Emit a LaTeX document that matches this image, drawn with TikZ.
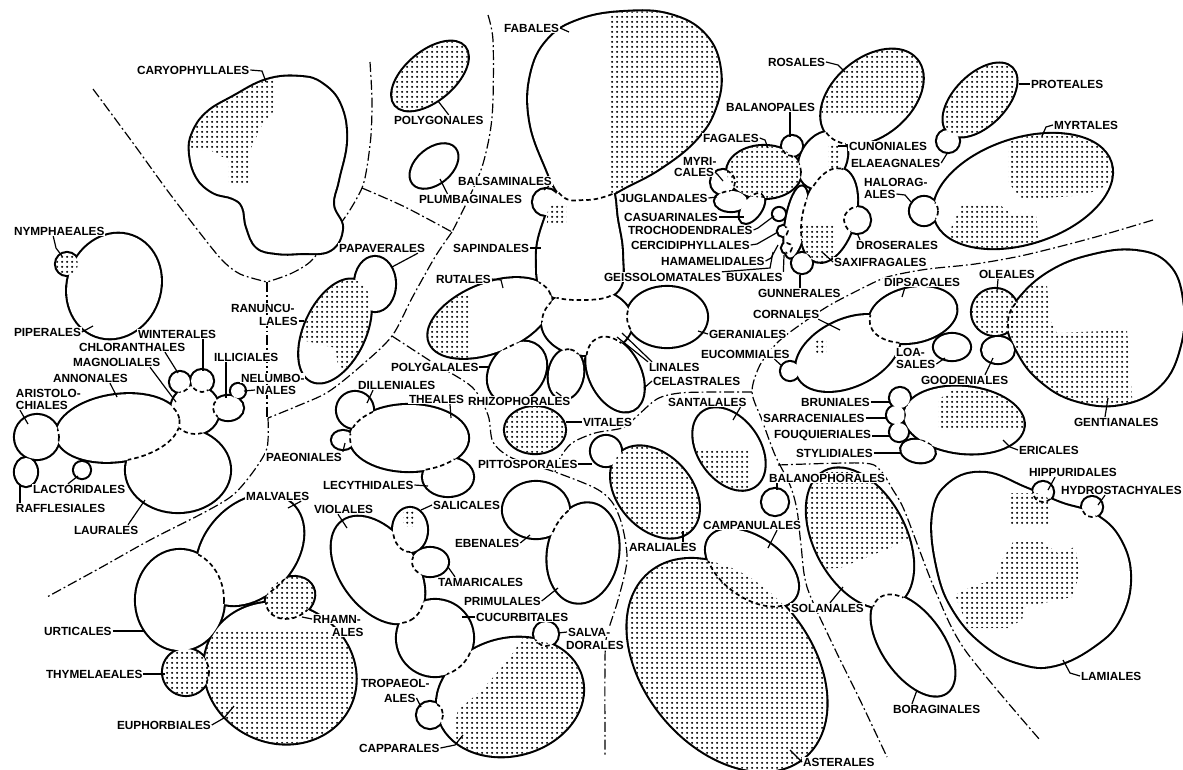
\documentclass[tikz,border=0pt]{standalone}
\usepackage{fontspec}
\newfontfamily\labfont{Liberation Sans}
\usetikzlibrary{patterns.meta}
\tikzdeclarepattern{
  name=stip,
  type=uncolored,
  bottom left={(0pt,0pt)},
  top right={(5pt,5pt)},
  tile size={(5pt,5pt)},
  code={\fill (2.5pt,2.5pt) circle (1.3pt);}
}
\newcommand\mkEl[6]{\path[save path=#1, rotate around={#6:(#2,#3)}] (#2,#3) ellipse [x radius=#4, y radius=#5];}
\newcommand\mkSh[2]{\path[save path=#1] plot[smooth cycle, tension=0.7] coordinates {#2};}
\newcommand\shOut[1]{\draw[line width=4.2pt, use path=#1];}
\newcommand\shWht[1]{\fill[white, use path=#1];}
\newcommand\shDin[2]{\begin{scope}\clip[use path=#1];\draw[bord, use path=#2];\end{scope}}
\newcommand\shStf[1]{\fill[pattern=stip, pattern color=black, use path=#1];}
\newcommand\shStp[2]{\begin{scope}\clip[use path=#1];\fill[pattern=stip, pattern color=black] #2;\end{scope}}
\newcommand\clDraw[1]{\def\shItem##1{\shOut##1}#1\def\shItem##1{\shWht##1}#1}
\tikzset{
  lab/.style={font=\labfont\bfseries\fontsize{11.8}{13}\selectfont, inner sep=0.8pt, fill=white, anchor=west},
  ldr/.style={line width=1.2pt},
  bord/.style={line width=1.7pt, dash pattern=on 4.5pt off 3pt},
  divl/.style={line width=1.2pt, dash pattern=on 10pt off 3pt on 1.8pt off 3pt},
}
\begin{document}
\begin{tikzpicture}[x=1pt,y=-1pt]
\useasboundingbox (0,0) rectangle (1183,769);
\fill[white] (0,0) rectangle (1183,769);

% ---------- dash-dot division lines ----------
\draw[divl] plot[smooth] coordinates {(93,89) (133,143) (167,190) (200,233) (222,260) (240,274) (267,282)};
\draw[divl] plot[smooth] coordinates {(370,62) (372,100) (371,135) (367,167) (362,188) (348,213) (328,240) (310,262) (290,274) (267,282)};
\draw[divl] (267,282) -- (267,418);
\draw[divl] plot[smooth] coordinates {(362,188) (405,207) (452,232)};
\draw[divl] plot[smooth] coordinates {(488,15) (493,40) (493,100) (490,133) (482,167) (468,200) (452,232)};
\draw[divl] plot[smooth] coordinates {(452,232) (435,257) (412,298) (392,336) (362,365) (328,392) (295,407) (268,418)};
\draw[divl] plot[smooth] coordinates {(268,418) (267,448) (253,472) (233,495) (205,512) (150,540) (100,568) (47,597)};
\draw[divl] plot[smooth] coordinates {(392,336) (432,362) (472,387) (488,415) (493,442) (512,458) (555,472) (595,488) (612,502) (622,525) (627,560) (618,600) (607,635) (605,660) (605,755)};
\draw[divl] plot[smooth] coordinates {(752,392) (715,392) (680,393) (657,399) (635,418) (622,428) (595,433) (572,443) (560,458) (555,472)};
\draw[divl] plot[smooth] coordinates {(1153,220) (1092,238) (1025,255) (975,264) (928,269) (895,275) (877,281) (830,305) (797,327) (777,343) (760,365) (752,392) (762,420) (775,455) (790,485) (797,510) (801,545) (807,587) (832,643) (860,700) (887,757)};
\draw[divl] plot[smooth] coordinates {(778,465) (862,463) (880,470) (893,490) (905,512) (935,590) (965,650) (1040,740)};

% ---------- shapes ----------
\mkSh\qCar{(300,77) (322,84) (340,105) (346,140) (338,180) (333,205) (342,228) (330,250) (300,253) (277,253) (257,247) (247,227) (243,207) (233,198) (213,192) (197,177) (190,153) (193,133) (207,113) (233,97) (267,80)}
\mkEl\qPip{114}{286}{53}{46}{70}
\mkEl\qNym{67}{264}{11}{11}{0}
\mkEl\qPgn{430}{76}{45}{24}{40}
\mkEl\qPlu{434}{166}{27}{17}{40}
% Rutanae
\mkSh\qFab{(562,196) (545,165) (530,120) (531,75) (548,40) (580,20) (625,12) (670,15) (705,35) (720,70) (715,108) (695,140) (660,168) (625,187) (607,196) (585,200)}
\mkSh\qSap{(562,186) (585,182) (610,186) (617,220) (622,255) (618,290) (585,300) (545,292) (537,260) (543,225)}
\mkEl\qBal{546}{202}{13}{13}{0}
\mkEl\qRut{490}{318}{65}{34}{22}
\mkEl\qHub{587}{322}{45}{33}{0}
\mkEl\qPol{517}{372}{33}{26}{50}
\mkEl\qRhi{566}{374}{25}{17}{80}
\mkEl\qCel{615}{374}{40}{25}{-63}
\mkEl\qGer{667}{317}{40}{30}{0}
% Rosanae
\mkEl\qRos{872}{97}{58}{38}{40}
\mkEl\qCun{823}{160}{30}{22}{60}
\mkEl\qFag{764}{172}{37}{26}{0}
\mkEl\qBlp{792}{146}{10}{10}{0}
\mkEl\qMyr{723}{182}{12}{12}{0}
\mkEl\qJug{731}{201}{16}{10}{0}
\mkEl\qCas{752}{208}{17}{9}{55}
\mkEl\qTro{779}{214}{6}{6}{0}
\mkEl\qCer{783}{231}{5}{5}{0}
\mkEl\qHam{796}{222}{36}{10}{80}
\mkEl\qBux{787}{248}{5}{5}{0}
\mkEl\qSax{829}{215}{48}{26}{75}
\mkEl\qDro{857}{220}{13}{13}{0}
\mkEl\qGun{802}{263}{10}{10}{0}
% Proteales, Myrtales
\mkEl\qPro{980}{100}{45}{25}{45}
\mkEl\qEla{948}{141}{11}{11}{0}
\mkEl\qMyt{1023}{191}{92}{52}{18}
\mkEl\qHal{924}{211}{14}{14}{0}
% Magnolianae
\mkEl\qAri{37}{437}{22}{22}{0}
\mkEl\qAnn{118}{428}{62}{33}{8}
\mkEl\qRaf{26}{472}{11}{14}{0}
\mkEl\qLac{82}{470}{8}{8}{0}
\mkEl\qMag{195}{410}{24}{24}{0}
\mkEl\qChl{180}{382}{10}{10}{0}
\mkEl\qWin{202}{381}{11}{11}{0}
\mkEl\qIll{228}{408}{15}{12}{0}
\mkEl\qNel{238}{391}{7}{7}{0}
\mkEl\qLau{178}{470}{52}{42}{0}
% Ranunculanae
\mkEl\qRan{335}{331}{55}{30}{65}
\mkEl\qPap{375}{284}{20}{27}{0}
% Theanae
\mkEl\qThe{409}{438}{59}{33}{0}
\mkEl\qDil{355}{410}{18}{18}{0}
\mkEl\qPae{343}{440}{11}{9}{0}
\mkEl\qLec{448}{477}{25}{19}{0}
\mkEl\qVit{535}{430}{30}{23}{0}
\mkEl\qPit{606}{451}{15}{15}{0}
\mkEl\qAra{655}{492}{52}{36}{-48}
\mkEl\qSan{729}{449}{45}{30}{-55}
\mkEl\qBph{775}{502}{13}{13}{0}
% Cornanae
\mkEl\qCor{848}{353}{55}{33}{25}
\mkEl\qDip{913}{315}{44}{27}{12}
\mkEl\qEuc{790}{371}{9}{9}{0}
\mkEl\qLoa{952}{347}{18}{13}{0}
\mkSh\qGen{(1008,322) (1020,298) (1050,272) (1090,256) (1135,251) (1168,265) (1182,300) (1180,345) (1160,385) (1120,404) (1075,400) (1040,380) (1018,352)}
\mkEl\qOle{995}{312}{23}{23}{0}
\mkEl\qGoo{998}{350}{16}{13}{0}
\mkEl\qEri{964}{420}{60}{33}{-6}
\mkEl\qBru{900}{398}{10}{10}{0}
\mkEl\qSar{896}{415}{9}{9}{0}
\mkEl\qFou{899}{432}{9}{9}{0}
\mkEl\qSty{918}{451}{17}{11}{-10}
\mkSh\qLam{(933,515) (950,483) (985,473) (1025,488) (1060,503) (1095,515) (1120,540) (1130,578) (1120,618) (1095,645) (1055,665) (1020,663) (985,645) (955,612) (938,570)}
\mkEl\qHip{1043}{492}{10}{10}{0}
\mkEl\qHyd{1092}{507}{10}{10}{0}
\mkEl\qSol{860}{538}{75}{45}{-62}
\mkEl\qBor{913}{645}{58}{30}{-55}
\mkEl\qCam{752}{568}{52}{30}{-35}
\mkEl\qAst{727}{665}{120}{82}{-50}
% Violanae
\mkEl\qVio{378}{570}{60}{37}{-54}
\mkEl\qSal{410}{530}{17}{22}{0}
\mkEl\qTam{430}{562}{18}{14}{0}
\mkEl\qCuc{435}{638}{38}{38}{0}
\mkEl\qCap{510}{697}{74}{58}{15}
\mkEl\qSlv{546}{634}{12}{12}{0}
\mkEl\qTrp{430}{715}{13}{13}{0}
\mkEl\qEbe{536}{510}{33}{28}{0}
\mkEl\qPri{583}{553}{35}{50}{-10}
% Malvanae
\mkEl\qUrt{180}{600}{44}{50}{0}
\mkEl\qMal{250}{550}{62}{45}{48}
\mkEl\qRha{290}{598}{25}{20}{25}
\mkEl\qEup{280}{673}{77}{69}{-25}
\mkEl\qThy{186}{672}{23}{23}{0}

% ---------- outlines and fills ----------
\clDraw{\shItem\qCar}
\clDraw{\shItem\qPip\shItem\qNym}
\clDraw{\shItem\qPgn}
\clDraw{\shItem\qPlu}
\clDraw{\shItem\qFab\shItem\qSap\shItem\qBal\shItem\qRut\shItem\qHub\shItem\qPol\shItem\qRhi\shItem\qCel\shItem\qGer}
\clDraw{\shItem\qRos\shItem\qCun\shItem\qFag\shItem\qBlp\shItem\qMyr\shItem\qJug\shItem\qCas\shItem\qTro\shItem\qCer\shItem\qHam\shItem\qBux\shItem\qSax\shItem\qDro\shItem\qGun}
\clDraw{\shItem\qPro\shItem\qEla}
\clDraw{\shItem\qMyt\shItem\qHal}
\clDraw{\shItem\qAri\shItem\qAnn\shItem\qRaf\shItem\qLac\shItem\qMag\shItem\qChl\shItem\qWin\shItem\qIll\shItem\qNel\shItem\qLau}
\clDraw{\shItem\qRan\shItem\qPap}
\clDraw{\shItem\qThe\shItem\qDil\shItem\qPae\shItem\qLec}
\clDraw{\shItem\qVit}
\clDraw{\shItem\qPit\shItem\qAra}
\clDraw{\shItem\qSan}
\clDraw{\shItem\qBph}
\clDraw{\shItem\qCor\shItem\qDip\shItem\qEuc}
\clDraw{\shItem\qLoa}
\clDraw{\shItem\qGen\shItem\qOle\shItem\qGoo}
\clDraw{\shItem\qEri\shItem\qBru\shItem\qSar\shItem\qFou\shItem\qSty}
\clDraw{\shItem\qLam\shItem\qHip\shItem\qHyd}
\clDraw{\shItem\qSol\shItem\qBor}
\clDraw{\shItem\qCam\shItem\qAst}
\clDraw{\shItem\qVio\shItem\qSal\shItem\qTam\shItem\qCuc\shItem\qCap\shItem\qSlv\shItem\qTrp}
\clDraw{\shItem\qEbe\shItem\qPri}
\clDraw{\shItem\qUrt\shItem\qMal\shItem\qRha\shItem\qEup\shItem\qThy}

% ---------- stippling ----------
\shStp\qCar{(185,75) -- (275,75) -- (273,112) -- (262,125) -- (255,140) -- (250,150) -- (249,184) -- (228,184) -- (228,160) -- (210,150) -- (185,150) -- cycle}
\shStf\qNym
\shStf\qPgn
\shStp\qFab{(610,0) rectangle (730,200)}
\shStp\qSap{(547,205) rectangle (566,223)}
\shStp\qRut{(420,295) rectangle (470,362)}
\shStp\qRos{(800,30) rectangle (940,112)}
\shStf\qFag
\shStp\qCun{(828,145) rectangle (840,170)}
\shStp\qSax{(795,225) rectangle (835,265)}
\shStf\qPro
\shStp\qMyt{(1008,136) -- (1120,136) -- (1120,180) -- (1085,195) -- (1022,200) -- (1008,182) -- cycle}
\shStp\qMyt{(962,205) -- (1000,205) -- (1010,213) -- (1036,215) -- (1040,250) -- (945,250) -- (952,225) -- cycle}
\shStp\qRan{(290,250) -- (400,250) -- (400,390) -- (347,372) -- (338,365) -- (335,348) -- (302,340) -- (290,340) -- cycle}
\shStf\qVit
\shStf\qAra
\shStp\qSan{(690,448) rectangle (750,495)}
\shStp\qCor{(815,338) rectangle (826,352)}
\shStf\qOle
\shStp\qGen{(1000,285) -- (1047,285) -- (1050,320) -- (1057,333) -- (1127,330) -- (1133,410) -- (1000,410) -- cycle}
\shStp\qEri{(938,400) -- (955,388) -- (1020,388) -- (1025,430) -- (938,430) -- cycle}
\shStp\qLam{(955,595) -- (975,585) -- (995,580) -- (1002,560) -- (1013,542) -- (1042,542) -- (1058,553) -- (1075,547) -- (1080,573) -- (1072,597) -- (1025,607) -- (1022,620) -- (1008,628) -- (968,628) -- cycle}
\shStp\qLam{(1010,493) rectangle (1050,523)}
\shStp\qSol{(800,455) -- (915,455) -- (915,535) -- (890,548) -- (860,560) -- (840,568) -- (800,570) -- cycle}
\shStf\qAst
\shStp\qSal{(403,510) rectangle (414,526)}
\shStp\qCap{(525,635) -- (600,635) -- (600,765) -- (450,765) -- (455,723) -- (458,710) -- (482,690) -- (508,660) -- cycle}
\shStf\qRha
\shStf\qThy
\shStp\qEup{(190,630) rectangle (370,760)}

% ---------- internal dashed borders ----------
\shDin\qSap\qFab
\shDin\qHub\qSap
\shDin\qSap\qRut
\shDin\qRut\qHub
\shDin\qPol\qRut
\shDin\qHub\qPol
\shDin\qHub\qRhi
\shDin\qRhi\qCel
\shDin\qHub\qCel
\shDin\qHub\qGer
\shDin\qCun\qRos
\shDin\qCun\qFag
\shDin\qFag\qBlp
\shDin\qFag\qMyr
\shDin\qMyr\qJug
\shDin\qFag\qJug
\shDin\qFag\qCas
\shDin\qFag\qHam
\shDin\qCun\qHam
\shDin\qHam\qSax
\shDin\qCun\qSax
\shDin\qSax\qDro
\shDin\qSax\qGun
\shDin\qHam\qGun
\shDin\qHam\qCer
\shDin\qHam\qBux
\shDin\qMyt\qHal
\shDin\qAnn\qAri
\shDin\qAri\qRaf
\shDin\qAnn\qLac
\shDin\qLau\qAnn
\shDin\qMag\qAnn
\shDin\qLau\qMag
\shDin\qMag\qChl
\shDin\qMag\qWin
\shDin\qMag\qIll
\shDin\qIll\qNel
\shDin\qDil\qThe
\shDin\qPae\qThe
\shDin\qLec\qThe
\shDin\qCor\qDip
\shDin\qOle\qGen
\shDin\qOle\qGoo
\shDin\qEri\qBru
\shDin\qEri\qSar
\shDin\qEri\qFou
\shDin\qEri\qSty
\shDin\qLam\qHip
\shDin\qLam\qHyd
\shDin\qSol\qBor
\shDin\qAst\qCam
\shDin\qVio\qSal
\shDin\qVio\qTam
\shDin\qCuc\qVio
\shDin\qCap\qCuc
\shDin\qCap\qTrp
\shDin\qCap\qSlv
\shDin\qEbe\qPri
\shDin\qMal\qUrt
\shDin\qEup\qUrt
\shDin\qEup\qMal
\shDin\qRha\qMal
\shDin\qEup\qRha
\shDin\qEup\qThy

% ---------- labels ----------
\node[lab] (lCar) at (136,70) {CARYOPHYLLALES};
\node[lab] (lPgn) at (393,120) {POLYGONALES};
\node[lab] (lPlu) at (418,199) {PLUMBAGINALES};
\node[lab] (lBsm) at (457,181) {BALSAMINALES};
\node[lab] (lFab) at (503,28) {FABALES};
\node[lab] (lSap) at (452,248) {SAPINDALES};
\node[lab] (lPap) at (338,248) {PAPAVERALES};
\node[lab] (lRan1) at (230,308) {RANUNCU-};
\node[lab] (lRan2) at (258,321) {LALES};
\node[lab] (lNym) at (13,231) {NYMPHAEALES};
\node[lab] (lPip) at (13,332) {PIPERALES};
\node[lab] (lWin) at (137,334) {WINTERALES};
\node[lab] (lChl) at (78,347) {CHLORANTHALES};
\node[lab] (lMag) at (72,362) {MAGNOLIALES};
\node[lab] (lIll) at (213,357) {ILLICIALES};
\node[lab] (lNel1) at (240,378) {NELUMBO-};
\node[lab] (lNel2) at (255,390) {NALES};
\node[lab] (lAnn) at (52,378) {ANNONALES};
\node[lab] (lAri1) at (15,393) {ARISTOLO-};
\node[lab] (lAri2) at (15,405) {CHIALES};
\node[lab] (lLac) at (32,489) {LACTORIDALES};
\node[lab] (lRaf) at (15,508) {RAFFLESIALES};
\node[lab] (lLau) at (73,530) {LAURALES};
\node[lab] (lMal) at (245,496) {MALVALES};
\node[lab] (lUrt) at (43,631) {URTICALES};
\node[lab] (lThy) at (45,674) {THYMELAEALES};
\node[lab] (lEup) at (116,725) {EUPHORBIALES};
\node[lab] (lRha1) at (312,619) {RHAMN-};
\node[lab] (lRha2) at (331,632) {ALES};
\node[lab] (lVio) at (313,509) {VIOLALES};
\node[lab] (lSal) at (432,505) {SALICALES};
\node[lab] (lTam) at (437,582) {TAMARICALES};
\node[lab] (lCuc) at (475,617) {CUCURBITALES};
\node[lab] (lSlv1) at (567,632) {SALVA-};
\node[lab] (lSlv2) at (565,645) {DORALES};
\node[lab] (lTrp1) at (360,683) {TROPAEOL-};
\node[lab] (lTrp2) at (383,698) {ALES};
\node[lab] (lCpp) at (358,748) {CAPPARALES};
\node[lab] (lEbe) at (454,543) {EBENALES};
\node[lab] (lPri) at (463,601) {PRIMULALES};
\node[lab] (lDil) at (357,385) {DILLENIALES};
\node[lab] (lThe) at (408,399) {THEALES};
\node[lab] (lPae) at (265,457) {PAEONIALES};
\node[lab] (lLec) at (322,485) {LECYTHIDALES};
\node[lab] (lRut) at (435,279) {RUTALES};
\node[lab] (lPgl) at (390,367) {POLYGALALES};
\node[lab] (lRhi) at (467,401) {RHIZOPHORALES};
\node[lab] (lVit) at (582,422) {VITALES};
\node[lab] (lPit) at (477,464) {PITTOSPORALES};
\node[lab] (lAra) at (628,547) {ARALIALES};
\node[lab] (lCam) at (702,525) {CAMPANULALES};
\node[lab] (lAst) at (802,762) {ASTERALES};
\node[lab] (lSol) at (790,608) {SOLANALES};
\node[lab] (lBor) at (892,709) {BORAGINALES};
\node[lab] (lLam) at (1080,676) {LAMIALES};
\node[lab] (lHip) at (1028,472) {HIPPURIDALES};
\node[lab] (lHyd) at (1060,490) {HYDROSTACHYALES};
\node[lab] (lGen) at (1073,422) {GENTIANALES};
\node[lab] (lEri) at (1018,450) {ERICALES};
\node[lab] (lGoo) at (920,380) {GOODENIALES};
\node[lab] (lLoa1) at (895,352) {LOA-};
\node[lab] (lLoa2) at (895,364) {SALES};
\node[lab] (lOle) at (978,274) {OLEALES};
\node[lab] (lDip) at (883,282) {DIPSACALES};
\node[lab] (lCor) at (752,314) {CORNALES};
\node[lab] (lEuc) at (700,354) {EUCOMMIALES};
\node[lab] (lGer) at (708,334) {GERANIALES};
\node[lab] (lLin) at (648,367) {LINALES};
\node[lab] (lCel) at (652,381) {CELASTRALES};
\node[lab] (lSan) at (667,402) {SANTALALES};
\node[lab] (lBph) at (768,478) {BALANOPHORALES};
\node[lab] (lBru) at (800,402) {BRUNIALES};
\node[lab] (lSar) at (762,418) {SARRACENIALES};
\node[lab] (lFou) at (773,436) {FOUQUIERIALES};
\node[lab] (lSty) at (795,453) {STYLIDIALES};
\node[lab] (lRos) at (767,62) {ROSALES};
\node[lab] (lBlp) at (725,107) {BALANOPALES};
\node[lab] (lFag) at (702,138) {FAGALES};
\node[lab] (lMyr1) at (682,161) {MYRI-};
\node[lab] (lMyr2) at (673,172) {CALES};
\node[lab] (lJug) at (618,198) {JUGLANDALES};
\node[lab] (lCas) at (623,217) {CASUARINALES};
\node[lab] (lTro) at (627,230) {TROCHODENDRALES};
\node[lab] (lCer) at (630,245) {CERCIDIPHYLLALES};
\node[lab] (lHam) at (660,261) {HAMAMELIDALES};
\node[lab] (lGei) at (603,277) {GEISSOLOMATALES};
\node[lab] (lBux) at (725,277) {BUXALES};
\node[lab] (lSxf) at (833,262) {SAXIFRAGALES};
\node[lab] (lDro) at (855,245) {DROSERALES};
\node[lab] (lGun) at (757,293) {GUNNERALES};
\node[lab] (lCun) at (848,146) {CUNONIALES};
\node[lab] (lEla) at (850,163) {ELAEAGNALES};
\node[lab] (lHal1) at (863,182) {HALORAG-};
\node[lab] (lHal2) at (863,194) {ALES};
\node[lab] (lPro) at (1030,84) {PROTEALES};
\node[lab] (lMyt) at (1053,125) {MYRTALES};

% ---------- leaders ----------
\draw[ldr] (lCar.east) -- (262,71) -- (266,82);
\draw[ldr] ([xshift=10pt]lPgn.north) -- (438,101);
\draw[ldr] ([xshift=-23pt]lPlu.north) -- (440,179);
\draw[ldr] ([xshift=-4pt]lBsm.south east) -- (544,190);
\draw[ldr] (lFab.east) -- (569,32);
\draw[ldr] (lSap.east) -- (541,248);
\draw[ldr] ([xshift=-8pt]lPap.south east) -- (392,267);
\draw[ldr] (lRan2.east) -- (304,321);
\draw[ldr] ([xshift=-6pt]lNym.south) -- (56,248) -- (62,256);
\draw[ldr] (lPip.east) -- (93,326);
\draw[ldr] ([xshift=66pt]lWin.south west) -- (203,371);
\draw[ldr] ([xshift=87pt]lChl.south west) -- (178,373);
\draw[ldr] ([xshift=78pt]lMag.south west) -- (176,402);
\draw[ldr] ([xshift=13pt]lIll.south west) -- (226,398);
\draw[ldr] (lNel2.west) -- (244,391);
\draw[ldr] ([xshift=58pt]lAnn.south west) -- (117,397);
\draw[ldr] ([xshift=5pt]lAri2.south west) -- (28,424);
\draw[ldr] ([xshift=36pt]lLac.north west) -- (78,476);
\draw[ldr] ([xshift=5pt]lRaf.north west) -- (20,484);
\draw[ldr] ([xshift=55pt]lLau.north west) -- (145,500);
\draw[ldr] ([xshift=-9pt]lMal.south east) -- (288,508);
\draw[ldr] (lUrt.east) -- (145,631);
\draw[ldr] (lThy.east) -- (165,674);
\draw[ldr] (lEup.east) -- (224,718) -- (234,706);
\draw[ldr] (lRha1.west) -- (302,617);
\draw[ldr] ([xshift=25pt]lVio.south west) -- (347,528);
\draw[ldr] (lSal.west) -- (421,510);
\draw[ldr] ([xshift=18pt]lTam.north west) -- (448,567);
\draw[ldr] (lCuc.west) -- (462,617);
\draw[ldr] (lSlv1.west) -- (558,633);
\draw[ldr] (lTrp2.east) -- (421,707);
\draw[ldr] (lCpp.east) -- (455,745) -- (463,735);
\draw[ldr] (lEbe.east) -- (530,535);
\draw[ldr] (lPri.east) -- (558,588);
\draw[ldr] ([xshift=16pt]lDil.south west) -- (367,403);
\draw[ldr] ([xshift=42pt]lThe.south west) -- (451,418);
\draw[ldr] (lPae.north east) -- (345,443);
\draw[ldr] (lLec.east) -- (428,486);
\draw[ldr] (lRut.east) -- (501,280) -- (503,288);
\draw[ldr] (lPgl.east) -- (488,367);
\draw[ldr] ([xshift=-10pt]lRhi.north east) -- (556,392);
\draw[ldr] (lVit.west) -- (566,422);
\draw[ldr] (lPit.east) -- (592,464);
\draw[ldr] ([xshift=55pt]lAra.north west) -- (683,531);
\draw[ldr] ([xshift=75pt]lCam.south west) -- (768,548);
\draw[ldr] (lAst.west) -- (790,750);
\draw[ldr] ([xshift=40pt]lSol.north west) -- (843,587);
\draw[ldr] ([xshift=20pt]lBor.north west) -- (917,690);
\draw[ldr] (lLam.west) -- (1070,673) -- (1063,660);
\draw[ldr] ([xshift=27pt]lHip.south west) -- (1048,490);
\draw[ldr] ([xshift=45pt]lHyd.south west) -- (1098,505);
\draw[ldr] ([xshift=32pt]lGen.north west) -- (1108,398);
\draw[ldr] (lEri.west) -- (1010,447) -- (1003,440);
\draw[ldr] ([xshift=65pt]lGoo.north west) -- (993,358);
\draw[ldr] (lLoa2.east) -- (945,358);
\draw[ldr] ([xshift=20pt]lOle.south west) -- (997,291);
\draw[ldr] ([xshift=22pt]lDip.south west) -- (902,297);
\draw[ldr] ([xshift=-2pt]lCor.south east) -- (840,330);
\draw[ldr] ([xshift=-16pt]lEuc.south east) -- (782,366);
\draw[ldr] (lGer.west) -- (698,331);
\draw[ldr] (lLin.north west) -- (617,337);
\draw[ldr] ([xshift=4pt]lLin.north west) -- (622,333);
\draw[ldr] (lCel.west) -- (644,388);
\draw[ldr] ([xshift=-7pt]lSan.south east) -- (733,420);
\draw[ldr] ([xshift=9pt]lBph.south west) -- (777,490);
\draw[ldr] (lBru.east) -- (890,402);
\draw[ldr] (lSar.east) -- (887,418);
\draw[ldr] (lFou.east) -- (890,436);
\draw[ldr] (lSty.east) -- (901,453);
\draw[ldr] (lRos.east) -- (838,65) -- (845,72);
\draw[ldr] ([xshift=65pt]lBlp.south west) -- (790,137);
\draw[ldr] (lFag.east) -- (765,140) -- (768,148);
\draw[ldr] (lMyr2.east) -- (718,175) -- (723,181);
\draw[ldr] (lJug.east) -- (717,197);
\draw[ldr] (lCas.east) -- (744,217);
\draw[ldr] (lTro.east) -- (758,228) -- (774,216);
\draw[ldr] (lCer.east) -- (757,244) -- (778,232);
\draw[ldr] (lHam.east) -- (771,258) -- (778,245);
\draw[ldr] (lGei.north east) -- (770,268) -- (773,252);
\draw[ldr] (lBux.north east) -- (784,255);
\draw[ldr] (lSxf.west) -- (822,252);
\draw[ldr] ([xshift=5pt]lDro.north west) -- (857,233);
\draw[ldr] ([xshift=43pt]lGun.north west) -- (800,275);
\draw[ldr] (lCun.west) -- (838,146);
\draw[ldr] (lEla.east) -- (948,152);
\draw[ldr] (lHal2.east) -- (905,195) -- (911,202);
\draw[ldr] (lPro.west) -- (1019,84);
\draw[ldr] (lMyt.west) -- (1046,127) -- (1042,136);
\end{tikzpicture}
\end{document}
